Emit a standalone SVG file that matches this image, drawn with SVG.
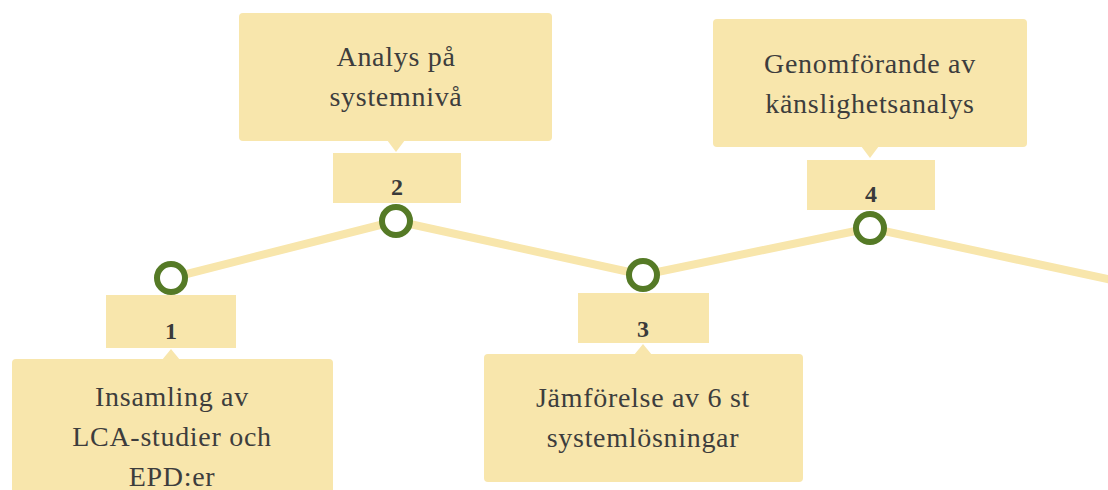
<svg xmlns="http://www.w3.org/2000/svg" width="1108" height="490" viewBox="0 0 1108 490">
  <style>
    .box { fill: #F8E6AC; }
    .txt { font-family: "Liberation Serif", "Times New Roman", serif; font-size: 28px; letter-spacing: 0.7px; fill: #3d3d3d; text-anchor: middle; }
    .num { font-family: "Liberation Serif", "Times New Roman", serif; font-size: 24px; font-weight: bold; fill: #3a3a3a; text-anchor: middle; }
    .dot { fill: #ffffff; stroke: #557A26; stroke-width: 6; }
    .line { fill: none; stroke: #F8E6AC; stroke-width: 8; stroke-linejoin: round; }
  </style>
  <rect width="1108" height="490" fill="#ffffff"/>
  <g id="connectors">
    <polyline class="line" points="171,278 396,221 643,275 870,228 1112,280"/>
  </g>
  <g id="node1">
    <rect class="box" x="106" y="295" width="130" height="53"/>
    <text class="num" x="171" y="339">1</text>
    <rect class="box" x="12" y="359" width="321" height="140" rx="4"/>
    <polygon class="box" points="162,360 171,349 180,360"/>
    <text class="txt" x="172" y="406">Insamling av</text>
    <text class="txt" x="172" y="446">LCA-studier och</text>
    <text class="txt" x="172" y="486">EPD:er</text>
    <circle class="dot" cx="171" cy="278" r="14"/>
  </g>
  <g id="node2">
    <rect class="box" x="239" y="13" width="313" height="128" rx="4"/>
    <polygon class="box" points="387,140 396,152 405,140"/>
    <text class="txt" x="396" y="66">Analys på</text>
    <text class="txt" x="396" y="106">systemnivå</text>
    <rect class="box" x="333" y="153" width="128" height="50"/>
    <text class="num" x="397" y="195">2</text>
    <circle class="dot" cx="396" cy="221" r="14"/>
  </g>
  <g id="node3">
    <rect class="box" x="578" y="293" width="131" height="50"/>
    <text class="num" x="643" y="337">3</text>
    <rect class="box" x="484" y="354" width="319" height="128" rx="4"/>
    <polygon class="box" points="634,355 643,344 652,355"/>
    <text class="txt" x="643" y="407">Jämförelse av 6 st</text>
    <text class="txt" x="643" y="447">systemlösningar</text>
    <circle class="dot" cx="643" cy="275" r="14"/>
  </g>
  <g id="node4">
    <rect class="box" x="713" y="19" width="314" height="128" rx="4"/>
    <polygon class="box" points="861,146 870,158 879,146"/>
    <text class="txt" x="870" y="73">Genomförande av</text>
    <text class="txt" x="870" y="113">känslighetsanalys</text>
    <rect class="box" x="807" y="160" width="128" height="50"/>
    <text class="num" x="871" y="202">4</text>
    <circle class="dot" cx="870" cy="228" r="14"/>
  </g>
</svg>
